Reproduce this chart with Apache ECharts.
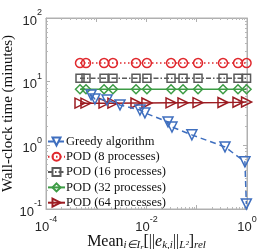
<!DOCTYPE html>
<html><head><meta charset="utf-8">
<script src="https://cdn.jsdelivr.net/npm/echarts@6/dist/echarts.min.js"></script>
<style>html,body{margin:0;padding:0;background:#fff}#c{width:274px;height:249px}</style>
</head><body><div id="c"></div>
<script>
const seriesNames = ['Greedy algorithm','POD (8 processes)','POD (16 processes)','POD (32 processes)','POD (64 processes)'];
const greedyErr = [7.9e-4, 9.4e-4, 1.64e-3, 2.97e-3, 7.4e-3, 9.3e-3, 2.68e-2, 3.21e-2, 8.0e-2, 0.365, 0.91, 0.97];
const greedyTime = [6.2, 5.35, 5.16, 4.31, 3.59, 3.23, 2.33, 1.94, 1.46, 0.944, 0.55, 0.12];
const podErr = [4.75e-4, 6.25e-4, 1.43e-3, 2.15e-3, 6.18e-3, 1.02e-2, 3.08e-2, 5.33e-2, 0.106, 0.333, 0.662, 0.98];
const pod8 = [19.6, 19.6, 19.6, 19.6, 19.6, 19.6, 19.6, 19.6, 19.6, 19.6, 19.6, 19.6];
const pod16 = [11.3, 11.3, 11.3, 11.3, 11.3, 11.3, 11.3, 11.3, 11.3, 11.3, 11.3, 11.3];
const pod32 = [7.6, 7.6, 7.6, 7.6, 7.6, 7.6, 7.6, 7.6, 7.6, 7.6, 7.6, 7.6];
const pod64 = [4.6, 4.6, 4.6, 4.6, 4.62, 4.62, 4.65, 4.65, 4.68, 4.7, 4.75, 4.8];
const xTicks = [1e-4, 1e-2, 1];
const yTicks = [0.1, 1, 10, 100];

const colors = ['#3f6fbf','#e0282d','#5a5a5a','#3d9c45','#9c1c22'];
const zip = (a,b) => a.map((v,i)=>[v,b[i]]);
const expLabel = (v, every) => {
  const e = Math.round(Math.log10(v));
  if (e % every !== 0) return '';
  return '{b|10}{s|' + e + '}';
};
const labRich = {
  b: {fontSize: 13, fontFamily: 'Liberation Sans', color: '#262626', verticalAlign: 'bottom', lineHeight: 19},
  s: {fontSize: 9, fontFamily: 'Liberation Sans', color: '#262626', verticalAlign: 'top', lineHeight: 10}
};
const axisCommon = {
  type: 'log', logBase: 10,
  axisLine: {show: true, lineStyle: {color: '#b0b0b0', width: 1}},
  axisTick: {show: true, inside: true, length: 4, lineStyle: {color: '#b0b0b0'}},
  minorTick: {show: true, splitNumber: 9, length: 2, lineStyle: {color: '#b8b8b8'}},
  splitLine: {show: false}
};
const mk = (name, data, color, symbol, size, rot, lineType, z) => ({
  name, type: 'line', data, symbol, symbolSize: size, symbolRotate: rot,
  showSymbol: true, z,
  lineStyle: {color, width: 1.5, type: lineType},
  itemStyle: {color: 'rgba(255,255,255,0)', borderColor: color, borderWidth: 1.5},
  emphasis: {disabled: true}, animation: false
});
const chart = echarts.init(document.getElementById('c'), null, {renderer: 'canvas'});
chart.setOption({
  animation: false,
  grid: {left: 46, right: 27, top: 18, bottom: 40, show: true, borderColor: '#b0b0b0', borderWidth: 1,
         containLabel: false, outerBoundsMode: 'none'},
  legend: {
    left: 47, top: 135, orient: 'vertical', itemWidth: 17, itemHeight: 10, itemGap: 2.3,
    padding: 0, itemStyle: {color: 'rgba(255,255,255,0)'},
    textStyle: {fontFamily: 'Liberation Serif', fontSize: 12.5, lineHeight: 12, color: '#111', padding: [0,0,0,-4]},
    data: seriesNames
  },
  xAxis: [
    Object.assign({}, axisCommon, {
      min: 1e-4, max: 1, position: 'bottom',
      axisLabel: {formatter: v => expLabel(v, 2), rich: labRich, margin: 6},
      name: '{m|Mean}{sub|i∈I}{ss|r}{m|[||}{it|e}{sub|k,i}{m|||}{sub|L²}{m|]}{sub|rel}',
      nameLocation: 'middle', nameGap: 23, nameMoveOverlap: false,
      nameTextStyle: {rich: {
        m: {fontFamily: 'Liberation Serif', fontSize: 16, color: '#111'},
        it: {fontFamily: 'Liberation Serif', fontStyle: 'italic', fontSize: 16, color: '#111'},
        sub: {fontFamily: 'Liberation Serif', fontStyle: 'italic', fontSize: 11, color: '#111', padding: [7,0,0,0]},
        ss: {fontFamily: 'Liberation Serif', fontStyle: 'italic', fontSize: 8, color: '#111', padding: [12,0,0,0]}
      }}
    }),
    Object.assign({}, axisCommon, {
      min: 1e-4, max: 1, position: 'top', axisLabel: {show: false}
    })
  ],
  yAxis: [
    Object.assign({}, axisCommon, {
      min: 0.1, max: 100, position: 'left',
      axisLabel: {formatter: v => expLabel(v, 1), rich: labRich, margin: 4},
      name: 'Wall-clock time (minutes)', nameLocation: 'middle', nameGap: 30, nameMoveOverlap: false,
      nameTextStyle: {fontFamily: 'Liberation Serif', fontSize: 15, color: '#111'}
    }),
    Object.assign({}, axisCommon, {
      min: 0.1, max: 100, position: 'right', axisLabel: {show: false}
    })
  ],
  series: [
    mk(seriesNames[0], zip(greedyErr, greedyTime), colors[0], 'triangle', 10, 180, [6,4], 6),
    mk(seriesNames[1], zip(podErr, pod8), colors[1], 'circle', 9, 0, [1.5,2.5], 5),
    mk(seriesNames[2], zip(podErr, pod16), colors[2], 'rect', 8, 0, [5,2,1.5,2], 4),
    mk(seriesNames[3], zip(podErr, pod32), colors[3], 'diamond', 9, 0, 'solid', 3),
    mk(seriesNames[4], zip(podErr, pod64), colors[4], 'triangle', 10, -90, 'solid', 2)
  ]
});
</script></body></html>
